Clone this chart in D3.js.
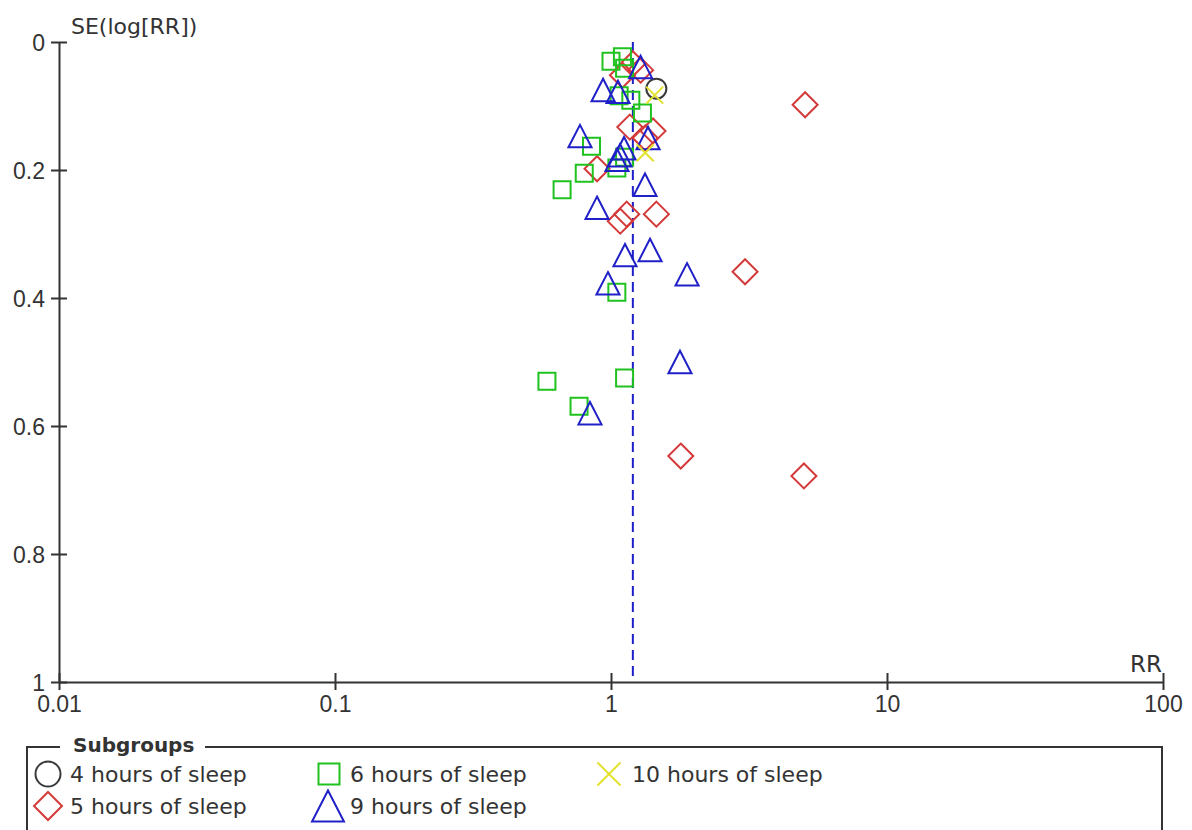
<!DOCTYPE html>
<html>
<head>
<meta charset="utf-8">
<script src="https://cdn.jsdelivr.net/npm/d3@7"></script>
<style>
  html, body { margin: 0; padding: 0; background: #fff; }
  svg { display: block; }
</style>
</head>
<body>
<svg id="chart" width="1192" height="830"></svg>
<script>
// Funnel plot: relative risk (log scale) against its standard error, by sleep-duration subgroup.

const seTicks = [0, 0.2, 0.4, 0.6, 0.8, 1];
const seTickLabels = ["0", "0.2", "0.4", "0.6", "0.8", "1"];
const rrTicks = [0.01, 0.1, 1, 10, 100];
const rrTickLabels = ["0.01", "0.1", "1", "10", "100"];
const pooledRR = 1.2;

const subgroupNames = ["4 hours of sleep", "5 hours of sleep", "6 hours of sleep", "9 hours of sleep", "10 hours of sleep"];

// 4 hours of sleep
const rr4h = [1.46];
const se4h = [0.073];

// 5 hours of sleep
const rr5h = [5.05, 3.06, 1.79, 5.0, 1.46, 1.08, 1.14, 0.89, 1.17, 1.42, 1.33, 1.10, 1.20, 1.28];
const se5h = [0.098, 0.359, 0.647, 0.678, 0.269, 0.280, 0.269, 0.198, 0.133, 0.139, 0.150, 0.052, 0.034, 0.044];

// 6 hours of sleep
const rr6h = [1.0, 1.10, 1.12, 1.07, 1.18, 1.30, 0.85, 0.80, 0.665, 1.05, 1.12, 1.05, 0.586, 0.766, 1.12];
const se6h = [0.030, 0.023, 0.041, 0.084, 0.091, 0.111, 0.163, 0.205, 0.231, 0.197, 0.180, 0.391, 0.530, 0.569, 0.525];

// 9 hours of sleep
const rr9h = [1.28, 0.936, 1.06, 0.772, 1.115, 1.078, 1.051, 1.362, 1.328, 0.89, 1.124, 1.385, 1.886, 0.975, 1.778, 0.839];
const se9h = [0.039, 0.075, 0.078, 0.147, 0.166, 0.177, 0.184, 0.150, 0.223, 0.259, 0.333, 0.325, 0.363, 0.377, 0.500, 0.580];

// 10 hours of sleep
const rr10h = [1.44, 1.33];
const se10h = [0.083, 0.173];

const svg = d3.select("#chart");
const ink = "#333";

const x = d3.scaleLog().domain([0.01, 100]).range([59, 1163]);
const y = d3.scaleLinear().domain([0, 1]).range([42, 682]);

// marker outlines, sized by half-extent s
const shapes = {
  circle: s => `M${s},0A${s},${s} 0 1,1 ${-s},0A${s},${s} 0 1,1 ${s},0Z`,
  diamond: s => `M0,${-s}L${s},0L0,${s}L${-s},0Z`,
  square: s => `M${-s},${-s}H${s}V${s}H${-s}Z`,
  triangle: s => `M0,${-s}L${s * 1.03},${s}L${-s * 1.03},${s}Z`,
  cross: s => `M${-s},${-s}L${s},${s}M${s},${-s}L${-s},${s}`
};

const series = [
  { name: subgroupNames[0], rr: rr4h, se: se4h, shape: "circle", size: 10, legendSize: 12.5, color: "#3a3a3a" },
  { name: subgroupNames[1], rr: rr5h, se: se5h, shape: "diamond", size: 12.5, legendSize: 14, color: "#d43a3a" },
  { name: subgroupNames[2], rr: rr6h, se: se6h, shape: "square", size: 8.5, legendSize: 10.5, color: "#1fc21f" },
  { name: subgroupNames[3], rr: rr9h, se: se9h, shape: "triangle", size: 11.2, legendSize: 15.5, color: "#2020c8" },
  { name: subgroupNames[4], rr: rr10h, se: se10h, shape: "cross", size: 8.5, legendSize: 11.5, color: "#e2e22e" }
];

// Pooled estimate
svg.append("line")
  .attr("x1", x(pooledRR)).attr("x2", x(pooledRR))
  .attr("y1", y(0)).attr("y2", y(1))
  .attr("stroke", "#2020c8").attr("stroke-width", 2)
  .attr("stroke-dasharray", "10,6");

// Axes
const yAxis = d3.axisLeft(y).tickValues(seTicks).tickFormat((d, i) => seTickLabels[i]).tickSizeOuter(0);
const gy = svg.append("g").attr("transform", `translate(${x(0.01)},0)`).call(yAxis);
gy.select(".domain").attr("stroke", ink).attr("stroke-width", 2);
gy.selectAll(".tick line").attr("x1", -8).attr("x2", 8).attr("stroke", ink).attr("stroke-width", 2);
gy.selectAll(".tick text")
  .attr("x", -14).attr("dy", "0.36em")
  .attr("fill", ink)
  .style("font-family", "'Liberation Sans', Arial, sans-serif")
  .style("font-size", "23px");

const xAxis = d3.axisBottom(x).tickValues(rrTicks).tickFormat((d, i) => rrTickLabels[i]).tickSizeOuter(0);
const gx = svg.append("g").attr("transform", `translate(0,${y(1)})`).call(xAxis);
gx.select(".domain").attr("stroke", ink).attr("stroke-width", 2);
gx.selectAll(".tick line").attr("y1", -9).attr("y2", 8).attr("stroke", ink).attr("stroke-width", 2);
gx.selectAll(".tick text")
  .attr("y", 30).attr("dy", 0)
  .attr("fill", ink)
  .style("font-family", "'Liberation Sans', Arial, sans-serif")
  .style("font-size", "23px");

svg.append("text")
  .attr("x", 71).attr("y", 34)
  .attr("fill", ink)
  .style("font-family", "'DejaVu Sans', sans-serif")
  .style("font-size", "22px")
  .text("SE(log[RR])");

svg.append("text")
  .attr("x", 1162).attr("y", 672)
  .attr("text-anchor", "end")
  .attr("fill", ink)
  .style("font-family", "'DejaVu Sans', sans-serif")
  .style("font-size", "23px")
  .text("RR");

// Study markers
series.forEach(s => {
  const pts = s.rr.map((v, i) => ({ rr: v, se: s.se[i] }));
  svg.append("g")
    .selectAll("path")
    .data(pts)
    .join("path")
    .attr("transform", d => `translate(${x(d.rr)},${y(d.se)})`)
    .attr("d", shapes[s.shape](s.size))
    .attr("fill", "none")
    .attr("stroke", s.color)
    .attr("stroke-width", 2);
});

// Legend frame
svg.append("path")
  .attr("d", "M60,747H27V845M205,747H1162V845")
  .attr("fill", "none").attr("stroke", ink).attr("stroke-width", 2);

svg.append("text")
  .attr("x", 73).attr("y", 752)
  .attr("fill", ink)
  .style("font-family", "'DejaVu Sans', sans-serif")
  .style("font-weight", "bold")
  .style("font-size", "20px")
  .text("Subgroups");

const legendPos = [
  { mx: 48, tx: 70, cy: 774 },
  { mx: 48, tx: 70, cy: 806 },
  { mx: 329, tx: 350, cy: 774 },
  { mx: 328, tx: 350, cy: 806 },
  { mx: 609, tx: 632, cy: 774 }
];

const legend = svg.append("g")
  .selectAll("g")
  .data(series)
  .join("g")
  .attr("transform", (d, i) => `translate(0,${legendPos[i].cy})`);

legend.append("path")
  .attr("transform", (d, i) => `translate(${legendPos[i].mx},0)`)
  .attr("d", d => shapes[d.shape](d.legendSize))
  .attr("fill", "none")
  .attr("stroke", d => d.color)
  .attr("stroke-width", 2);

legend.append("text")
  .attr("x", (d, i) => legendPos[i].tx)
  .attr("y", 8)
  .attr("fill", ink)
  .style("font-family", "'DejaVu Sans', sans-serif")
  .style("font-size", "22px")
  .text(d => d.name);
</script>
</body>
</html>
